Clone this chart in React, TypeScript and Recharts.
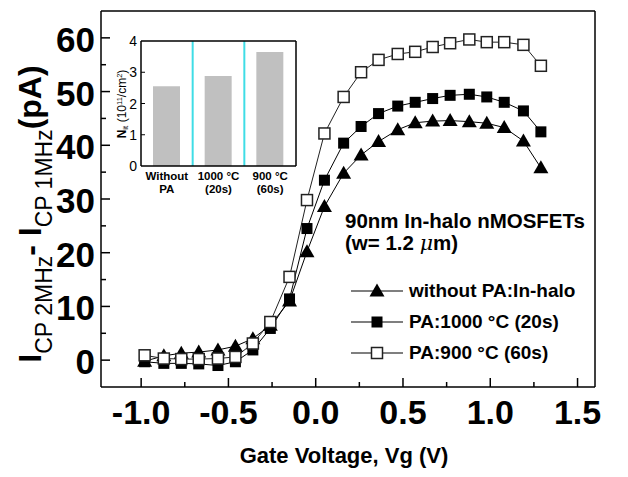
import React from 'react';
import { LineChart, Line, XAxis, YAxis, Legend, BarChart, Bar, ReferenceLine } from 'recharts';

// ---- main chart data ----
const gateVoltage = [-0.98, -0.87, -0.77, -0.67, -0.56, -0.46, -0.36, -0.26, -0.15, -0.05, 0.05, 0.16, 0.26, 0.36, 0.47, 0.57, 0.67, 0.77, 0.88, 0.98, 1.08, 1.19, 1.29];
const withoutPA = [-0.2, 0.8, 1.3, 1.5, 1.9, 2.6, 4.0, 6.5, 11.0, 20.2, 28.6, 34.8, 38.2, 40.7, 42.9, 44.2, 44.5, 44.6, 44.4, 44.1, 43.3, 40.8, 35.8];
const pa1000 = [-0.3, -0.6, -0.6, -0.7, -1.0, -0.3, 1.9, 5.9, 11.4, 24.5, 33.5, 40.4, 43.5, 45.9, 47.3, 48.0, 48.7, 49.3, 49.5, 49.0, 48.0, 46.4, 42.5];
const pa900 = [0.9, 0.3, 0.2, 0.2, 0.3, 0.6, 3.1, 7.1, 15.5, 29.8, 42.2, 49.0, 53.6, 55.9, 57.0, 57.4, 58.3, 59.0, 59.7, 59.2, 59.2, 58.7, 54.8];

const xTicks = [-1, -0.75, -0.5, -0.25, 0, 0.25, 0.5, 0.75, 1, 1.25, 1.5];
const yTicks = [0, 5, 10, 15, 20, 25, 30, 35, 40, 45, 50, 55, 60];

const seriesNames = ['without PA:In-halo', 'PA:1000 °C (20s)', 'PA:900 °C (60s)'];

// ---- inset data ----
const insetCategories = ['Without|PA', '1000 °C|(20s)', '900 °C|(60s)'];
const insetPositions = [0, 1, 2];
const insetNit = [2.55, 2.88, 3.65];
const insetYTicks = [0, 1, 2, 3, 4];

const mainData = gateVoltage.map((v, i) => ({ vg: v, a: withoutPA[i], b: pa1000[i], c: pa900[i] }));
const insetData = insetPositions.map((p, i) => ({ pos: p, nit: insetNit[i], label: insetCategories[i] }));

const FONT = '"Liberation Sans", Arial, sans-serif';

const TriangleDot = (p: any) => {
  const { cx, cy } = p;
  if (cx == null || cy == null) return <g />;
  return <path d={`M${cx},${cy - 7.5} L${cx + 7.5},${cy + 5.5} L${cx - 7.5},${cy + 5.5} Z`} fill="#000" />;
};
const FilledSquareDot = (p: any) => {
  const { cx, cy } = p;
  if (cx == null || cy == null) return <g />;
  return <rect x={cx - 5.5} y={cy - 5.5} width={11} height={11} fill="#000" />;
};
const OpenSquareDot = (p: any) => {
  const { cx, cy } = p;
  if (cx == null || cy == null) return <g />;
  return <rect x={cx - 5.5} y={cy - 5.5} width={11} height={11} fill="#fff" stroke="#222" strokeWidth={1.5} />;
};

const XTick = (props: any) => {
  const { x, y, payload } = props;
  const v = payload.value as number;
  const major = Math.abs(v * 2 - Math.round(v * 2)) < 1e-6;
  return (
    <g>
      <line x1={x} x2={x} y1={y} y2={y - (major ? 9 : 5)} stroke="#000" strokeWidth={1.5} />
      {major && (
        <text x={x} y={y + 37} textAnchor="middle" fontSize={34} fontWeight="bold" fontFamily={FONT} fill="#000">
          {v.toFixed(1)}
        </text>
      )}
    </g>
  );
};

const YTick = (props: any) => {
  const { x, y, payload } = props;
  const v = payload.value as number;
  const major = v % 10 === 0;
  return (
    <g>
      <line x1={x} x2={x + (major ? 9 : 5)} y1={y} y2={y} stroke="#000" strokeWidth={1.5} />
      {major && (
        <text x={x - 6} y={y} dy="0.4em" textAnchor="end" fontSize={35} fontWeight="bold" fontFamily={FONT} fill="#000">
          {v}
        </text>
      )}
    </g>
  );
};

const YTitle = () => (
  <text transform="translate(41,214) rotate(-90)" textAnchor="middle" fontFamily={FONT} fontWeight="bold" fontSize={32} fill="#000">
    <tspan>I</tspan>
    <tspan fontSize={23} fontWeight="normal" dy={11}>CP 2MHz</tspan>
    <tspan dy={-11}>{'- I'}</tspan>
    <tspan fontSize={23} fontWeight="normal" dy={11}>CP 1MHz</tspan>
    <tspan dy={-11}>(pA)</tspan>
  </text>
);

const XTitle = () => (
  <text x={344} y={463} textAnchor="middle" fontFamily={FONT} fontWeight="bold" fontSize={22} fill="#000">
    Gate Voltage, Vg (V)
  </text>
);

const LegendMarker = ({ kind }: { kind: number }) => (
  <svg width={56} height={20} style={{ display: 'block' }}>
    <line x1={1} x2={53} y1={10} y2={10} stroke="#000" strokeWidth={1.2} />
    {kind === 0 && <path d="M27,2.5 L34.5,15.5 L19.5,15.5 Z" fill="#000" />}
    {kind === 1 && <rect x={21.5} y={4.5} width={11} height={11} fill="#000" />}
    {kind === 2 && <rect x={21.5} y={4.5} width={11} height={11} fill="#fff" stroke="#222" strokeWidth={1.5} />}
  </svg>
);

const LegendContent = () => (
  <div style={{ fontFamily: FONT, fontWeight: 'bold', fontSize: 19, color: '#000' }}>
    {seriesNames.map((n, i) => (
      <div key={n} style={{ display: 'flex', alignItems: 'center', height: 31 }}>
        <LegendMarker kind={i} />
        <span style={{ marginLeft: 3, whiteSpace: 'nowrap' }}>{n}</span>
      </div>
    ))}
  </div>
);

const InsetXTick = (props: any) => {
  const { x, y, payload } = props;
  const idx = insetPositions.indexOf(payload.value);
  const parts = (insetCategories[idx] || '').split('|');
  return (
    <g>
      <text x={x} y={y + 14} textAnchor="middle" fontSize={11.5} fontWeight="bold" fontFamily={FONT} fill="#000">
        {parts[0]}
      </text>
      <text x={x} y={y + 27} textAnchor="middle" fontSize={11.5} fontWeight="bold" fontFamily={FONT} fill="#000">
        {parts[1]}
      </text>
    </g>
  );
};

const InsetYTick = (props: any) => {
  const { x, y, payload } = props;
  const v = payload.value as number;
  return (
    <g>
      {v > 0 && v < 4 && <line x1={x} x2={x + 4} y1={y} y2={y} stroke="#000" strokeWidth={1} />}
      <text x={x - 4} y={y} dy="0.36em" textAnchor="end" fontSize={14} fontFamily={FONT} fill="#000">
        {v}
      </text>
    </g>
  );
};

const InsetYTitle = () => (
  <text transform="translate(16,74) rotate(-90)" textAnchor="middle" fontFamily={FONT} fontSize={12} fill="#000">
    <tspan fontWeight="bold">N</tspan>
    <tspan fontSize={8} dy={2}>it</tspan>
    <tspan dy={-2}>{' (10'}</tspan>
    <tspan fontSize={7.5} dy={-4}>11</tspan>
    <tspan dy={4}>/cm</tspan>
    <tspan fontSize={7.5} dy={-4}>2</tspan>
    <tspan dy={4}>)</tspan>
  </text>
);

export default function App() {
  return (
    <div style={{ position: 'absolute', left: 0, top: 0, width: 628, height: 477, background: '#fff', overflow: 'hidden' }}>
      <LineChart width={628} height={477} data={mainData} margin={{ top: 11, right: 33, bottom: 0, left: 0 }}>
        <XAxis
          dataKey="vg"
          type="number"
          domain={[-1.23, 1.6]}
          ticks={xTicks}
          interval={0}
          height={90}
          tickSize={0}
          tickMargin={0}
          tick={<XTick />}
          axisLine={{ stroke: '#000', strokeWidth: 1.5 }}
          allowDataOverflow
          label={{ content: () => <XTitle /> }}
        />
        <YAxis
          type="number"
          domain={[-5, 65]}
          ticks={yTicks}
          interval={0}
          width={101}
          tickSize={0}
          tickMargin={0}
          tick={<YTick />}
          axisLine={{ stroke: '#000', strokeWidth: 1.5 }}
          allowDataOverflow
          label={{ content: () => <YTitle /> }}
        />
        <ReferenceLine y={65} stroke="#000" strokeWidth={1.5} />
        <ReferenceLine x={1.6} stroke="#000" strokeWidth={1.5} />
        <Line dataKey="a" stroke="#000" strokeWidth={1} dot={<TriangleDot />} isAnimationActive={false} name={seriesNames[0]} />
        <Line dataKey="b" stroke="#000" strokeWidth={1} dot={<FilledSquareDot />} isAnimationActive={false} name={seriesNames[1]} />
        <Line dataKey="c" stroke="#222" strokeWidth={1} dot={<OpenSquareDot />} isAnimationActive={false} name={seriesNames[2]} />
        <Legend
          layout="vertical"
          align="center"
          verticalAlign="middle"
          content={() => <LegendContent />}
          wrapperStyle={{ position: 'absolute', left: 350, top: 275, width: 240, height: 95 }}
        />
      </LineChart>

      <div style={{ position: 'absolute', left: 345, top: 210, fontFamily: FONT, fontWeight: 'bold', fontSize: 20.5, lineHeight: '22px', color: '#000', whiteSpace: 'nowrap' }}>
        <div>90nm In-halo nMOSFETs</div>
        <div>
          (w= 1.2 <span style={{ fontStyle: 'italic', fontWeight: 'normal', fontFamily: '"DejaVu Serif", serif' }}>μ</span>m)
        </div>
      </div>

      <div style={{ position: 'absolute', left: 110, top: 30, width: 190, height: 170 }}>
        <BarChart width={190} height={170} data={insetData} margin={{ top: 11, right: 4, bottom: 0, left: 0 }}>
          <XAxis
            dataKey="pos"
            type="number"
            domain={[-0.5, 2.5]}
            ticks={insetPositions}
            interval={0}
            height={34}
            tickSize={0}
            tickMargin={0}
            tick={<InsetXTick />}
            axisLine={{ stroke: '#000', strokeWidth: 1.5 }}
            allowDataOverflow
          />
          <YAxis
            type="number"
            domain={[0, 4]}
            ticks={insetYTicks}
            interval={0}
            width={31}
            tickSize={0}
            tickMargin={0}
            tick={<InsetYTick />}
            axisLine={{ stroke: '#000', strokeWidth: 1.5 }}
            label={{ content: () => <InsetYTitle /> }}
          />
          <ReferenceLine x={0.5} stroke="#3fdde6" strokeWidth={2} />
          <ReferenceLine x={1.5} stroke="#3fdde6" strokeWidth={2} />
          <Bar dataKey="nit" fill="#c0c0c0" barSize={27} isAnimationActive={false} />
          <ReferenceLine y={4} stroke="#000" strokeWidth={1.5} />
          <ReferenceLine x={2.5} stroke="#000" strokeWidth={1.5} />
        </BarChart>
      </div>
    </div>
  );
}
